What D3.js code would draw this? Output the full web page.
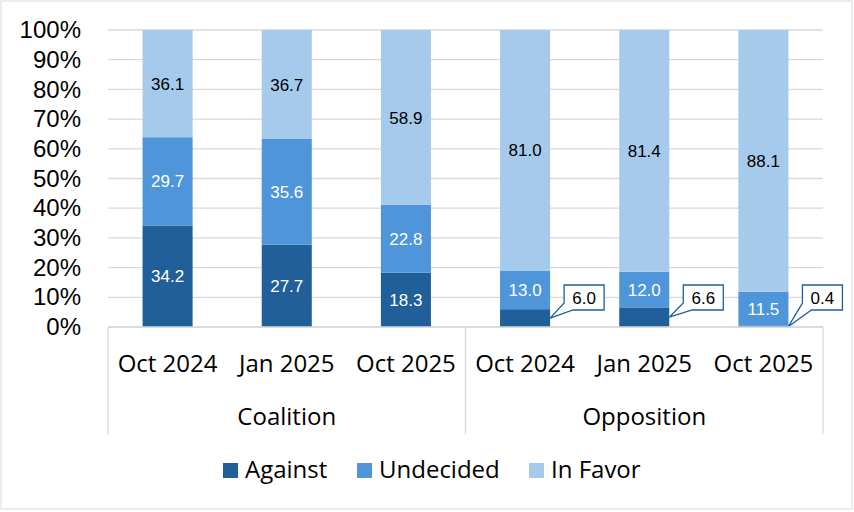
<!DOCTYPE html>
<html>
<head>
<meta charset="utf-8">
<script src="https://cdn.jsdelivr.net/npm/d3@7"></script>
<style>
  body { margin: 0; background: #fff; }
  svg { display: block; }
</style>
</head>
<body>
<svg width="854" height="512"></svg>
<script>
// ---- data ----
const groups  = ["Coalition", "Opposition"];
const periods = ["Oct 2024", "Jan 2025", "Oct 2025"];
const series  = ["Against", "Undecided", "In Favor"];
const against   = [34.2, 27.7, 18.3, 6.0, 6.6, 0.4];
const undecided = [29.7, 35.6, 22.8, 13.0, 12.0, 11.5];
const inFavor   = [36.1, 36.7, 58.9, 81.0, 81.4, 88.1];
const yTicks    = [0, 10, 20, 30, 40, 50, 60, 70, 80, 90, 100];
const calloutIdx = [3, 4, 5];   // small "Against" values shown in callouts

const colors     = {"Against": "#215F9A", "Undecided": "#4E95D9", "In Favor": "#A6CAEC"};
const labelColor = {"Against": "#fff", "Undecided": "#fff", "In Favor": "#000"};

const rows = [];
groups.forEach((g, gi) => periods.forEach((p, pi) => {
  const i = gi * periods.length + pi;
  rows.push({key: g + "|" + p, group: g, period: p, "Against": against[i], "Undecided": undecided[i], "In Favor": inFavor[i]});
}));

const svg = d3.select("svg");
const plotL = 108, plotR = 823, plotT = 30, plotB = 327;

// chart frame
svg.append("rect").attr("x", 1).attr("y", 1).attr("width", 851).attr("height", 508)
  .attr("fill", "#fff").attr("stroke", "#d9d9d9");

const x = d3.scaleBand().domain(rows.map(d => d.key)).range([plotL, plotR]).paddingInner(0.58).paddingOuter(0.29);
const band = (plotR - plotL) / rows.length;
const xc = k => x(k) + x.bandwidth() / 2;
const y = d3.scaleLinear().domain([0, 100]).range([plotB, plotT]);

// gridlines
svg.append("g").selectAll("line").data(yTicks).enter().append("line")
  .attr("x1", plotL).attr("x2", plotR)
  .attr("y1", d => y(d)).attr("y2", d => y(d))
  .attr("stroke", "#d9d9d9").attr("stroke-width", 1.3);

// y axis labels
const yAxis = svg.append("g").attr("transform", `translate(${plotL},0)`)
  .call(d3.axisLeft(y).tickValues(yTicks).tickFormat(d => d + "%").tickSize(0).tickPadding(27));
yAxis.select(".domain").remove();
yAxis.selectAll("text").attr("font-family", "Liberation Sans, Arial, sans-serif")
  .attr("font-size", 24).attr("fill", "#000");

// stacked bars
const stacked = d3.stack().keys(series)(rows);
const layer = svg.append("g").selectAll("g").data(stacked).enter().append("g")
  .attr("fill", d => colors[d.key]);
layer.selectAll("rect").data(d => d).enter().append("rect")
  .attr("x", d => x(d.data.key))
  .attr("width", x.bandwidth())
  .attr("y", d => y(d[1]))
  .attr("height", d => y(d[0]) - y(d[1]));

// in-bar labels
stacked.forEach(s => {
  svg.append("g").selectAll("text")
    .data(s.filter((d, i) => !(s.key === "Against" && calloutIdx.includes(i))))
    .enter().append("text")
    .attr("x", d => xc(d.data.key))
    .attr("y", d => y((d[0] + d[1]) / 2))
    .attr("dy", "0.36em")
    .attr("text-anchor", "middle")
    .attr("font-family", "Liberation Sans, Arial, sans-serif")
    .attr("font-size", 17)
    .attr("fill", labelColor[s.key])
    .text(d => d.data[s.key].toFixed(1));
});

// callouts for small values
const againstLayer = stacked[0];
calloutIdx.forEach(i => {
  const d = againstLayer[i];
  const tx = x(d.data.key) + x.bandwidth();
  const ty = y((d[0] + d[1]) / 2);
  const bx = tx + 14, bw = 40, bt = 285, bh = 25, bb = bt + bh;
  svg.append("path")
    .attr("d", `M${bx},${bt}H${bx + bw}V${bb}H${bx + 9}L${tx},${ty}L${bx},${bb - 7}Z`)
    .attr("fill", "#fff").attr("stroke", colors["Against"]).attr("stroke-width", 1.3);
  svg.append("text")
    .attr("x", bx + bw / 2).attr("y", bt + bh / 2).attr("dy", "0.36em")
    .attr("text-anchor", "middle")
    .attr("font-family", "Liberation Sans, Arial, sans-serif")
    .attr("font-size", 17).attr("fill", "#000")
    .text(d.data["Against"].toFixed(1));
});

// x axis baseline
svg.append("line").attr("x1", plotL).attr("x2", plotR).attr("y1", plotB).attr("y2", plotB)
  .attr("stroke", "#d9d9d9").attr("stroke-width", 1.3);

// group separators
const groupEdges = [plotL, plotL + band * periods.length, plotR];
svg.append("g").selectAll("line").data(groupEdges).enter().append("line")
  .attr("x1", d => d).attr("x2", d => d).attr("y1", plotB).attr("y2", 434)
  .attr("stroke", "#d9d9d9").attr("stroke-width", 1.3);

const catFont = "Open Sans, Noto Sans, sans-serif";
// period labels
svg.append("g").selectAll("text").data(rows).enter().append("text")
  .attr("x", d => xc(d.key)).attr("y", 372)
  .attr("text-anchor", "middle")
  .attr("font-family", catFont).attr("font-size", 24).attr("fill", "#000")
  .text(d => d.period);

// group labels
svg.append("g").selectAll("text").data(groups).enter().append("text")
  .attr("x", (d, i) => plotL + band * periods.length * (i + 0.5)).attr("y", 425)
  .attr("text-anchor", "middle")
  .attr("font-family", catFont).attr("font-size", 24).attr("fill", "#000")
  .text(d => d);

// legend
const legendX = [223, 357, 529];
const lg = svg.append("g").selectAll("g").data(series).enter().append("g")
  .attr("transform", (d, i) => `translate(${legendX[i]},463)`);
lg.append("rect").attr("width", 15).attr("height", 15).attr("fill", d => colors[d]);
lg.append("text").attr("x", 22).attr("y", 15)
  .attr("font-family", catFont).attr("font-size", 24).attr("fill", "#000")
  .text(d => d);
</script>
</body>
</html>
